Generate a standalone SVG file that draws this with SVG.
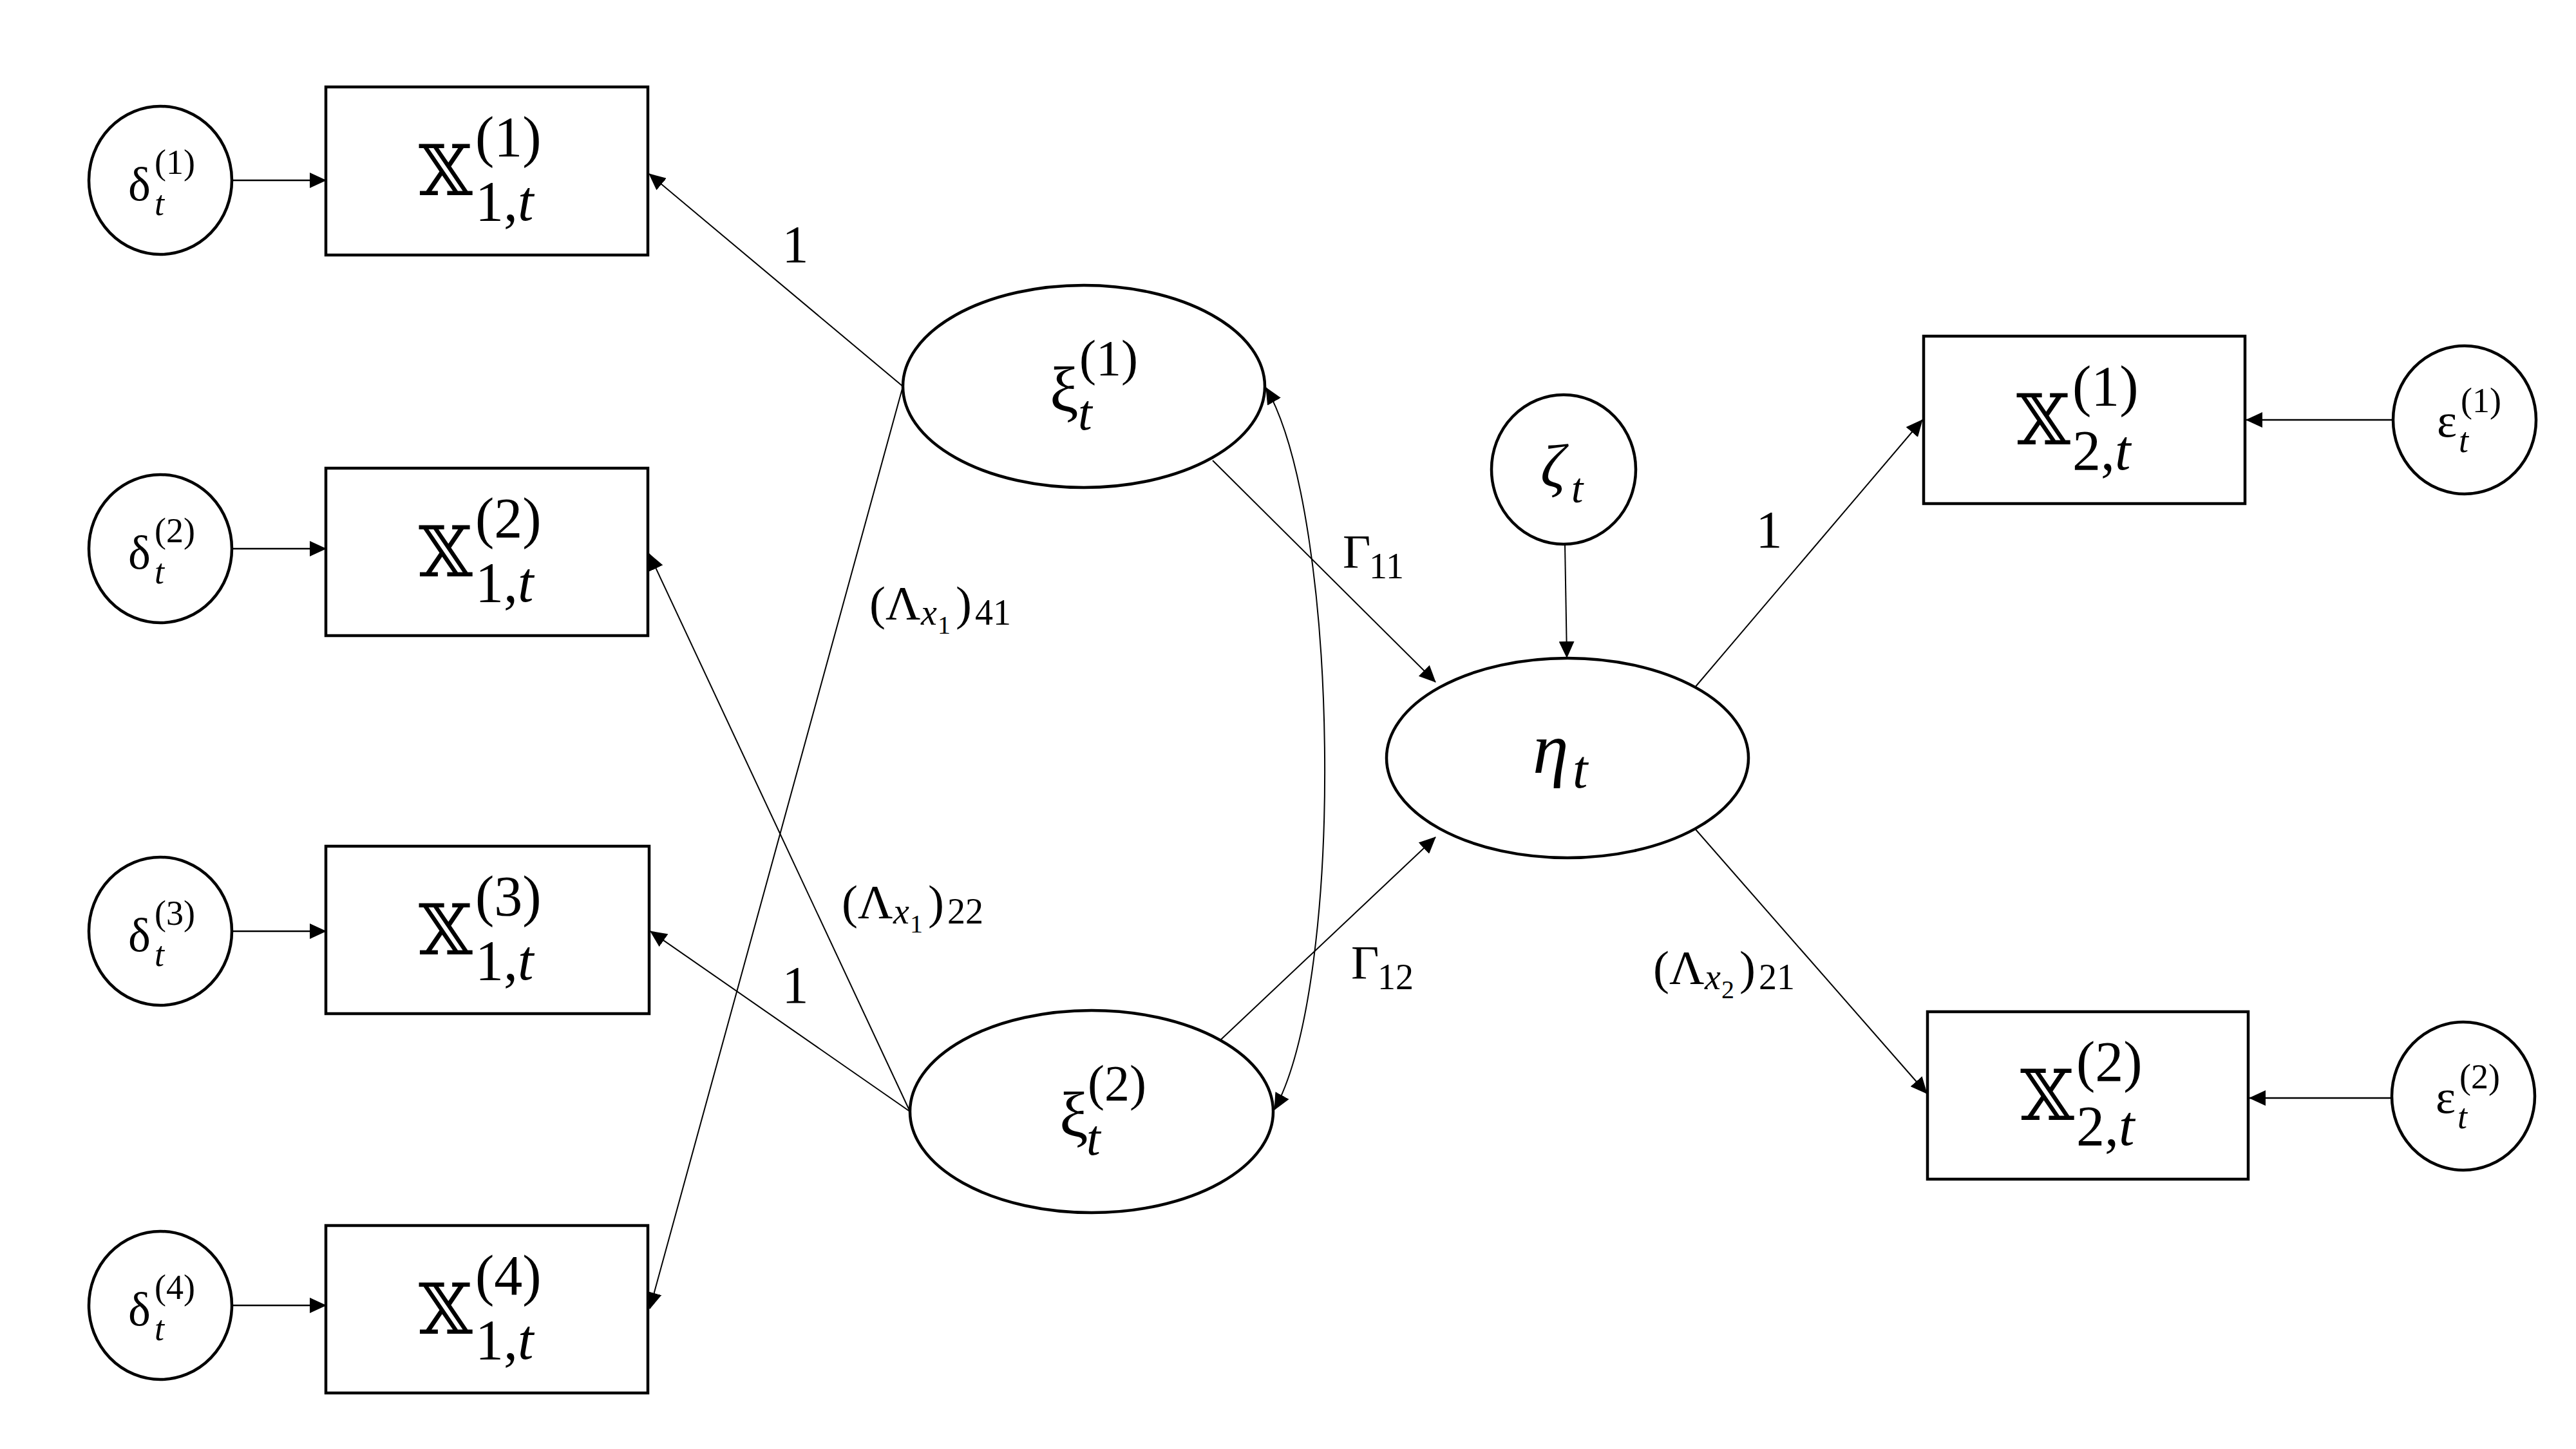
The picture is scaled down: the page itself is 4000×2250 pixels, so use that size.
<svg xmlns="http://www.w3.org/2000/svg" width="4000" height="2250" viewBox="0 0 4000 2250">
<defs>
<marker id="ah" markerUnits="userSpaceOnUse" markerWidth="26" markerHeight="24" refX="25" refY="12" orient="auto-start-reverse" viewBox="0 0 26 24">
<path d="M0,0 L26,12 L0,24 Z" fill="#000"/>
</marker>
</defs>
<style>
.box{fill:#fff;stroke:#000;stroke-width:4.5}
.nd{fill:#fff;stroke:#000;stroke-width:4.5}
.e{fill:none;stroke:#000;stroke-width:2}
.ea{fill:none;stroke:#000;stroke-width:2.6}
text{font-family:"Liberation Serif","DejaVu Serif",serif;fill:#000}
.ds{font-family:"DejaVu Serif","DejaVu Sans",serif;font-size:108px}
.bs{font-size:88px}
.g{font-size:74px}
.gs{font-size:54px}
.lv{font-size:100px}
.lvs{font-size:78px}
.it{font-style:italic}
.lab{font-size:75px}
.labs{font-size:56px}
.labss{font-size:40px}
.one{font-size:82px}
</style>
<rect width="4000" height="2250" fill="#fff"/>

<g id="connectors">
<line class="ea" x1="360" y1="280" x2="506" y2="280" marker-end="url(#ah)"/>
<line class="ea" x1="360" y1="852" x2="506" y2="852" marker-end="url(#ah)"/>
<line class="ea" x1="360" y1="1446" x2="506" y2="1446" marker-end="url(#ah)"/>
<line class="ea" x1="360" y1="2027" x2="506" y2="2027" marker-end="url(#ah)"/>
<line class="ea" x1="3717" y1="652" x2="3488" y2="652" marker-end="url(#ah)"/>
<line class="ea" x1="3715" y1="1705" x2="3493" y2="1705" marker-end="url(#ah)"/>
<line class="e" x1="1402" y1="600" x2="1008" y2="270" marker-end="url(#ah)"/>
<line class="e" x1="1402" y1="600" x2="1009" y2="2032" marker-end="url(#ah)"/>
<line class="e" x1="1413" y1="1726" x2="1008" y2="860" marker-end="url(#ah)"/>
<line class="e" x1="1413" y1="1726" x2="1010" y2="1446" marker-end="url(#ah)"/>
<line class="e" x1="1883" y1="715" x2="2229" y2="1059" marker-end="url(#ah)"/>
<line class="e" x1="1895" y1="1615" x2="2229" y2="1300" marker-end="url(#ah)"/>
<path class="e" d="M1966,602 C2080,800 2090,1520 1979,1723" marker-start="url(#ah)" marker-end="url(#ah)"/>
<line class="e" x1="2430" y1="845" x2="2433" y2="1021" marker-end="url(#ah)"/>
<line class="e" x1="2633" y1="1066" x2="2985" y2="652" marker-end="url(#ah)"/>
<line class="e" x1="2633" y1="1288" x2="2992" y2="1698" marker-end="url(#ah)"/>
</g>

<g id="edge-labels">
<text class="one" x="1235" y="407" text-anchor="middle">1</text>
<text class="one" x="1235" y="1557" text-anchor="middle">1</text>
<text class="one" x="2747" y="850" text-anchor="middle">1</text>
<text class="lab" x="1350" y="962">(Λ</text><text class="labs it" x="1430" y="970">x</text><text class="labss" x="1456" y="984">1</text><text class="lab" x="1484" y="962">)</text><text class="labs" x="1514" y="970">41</text>
<text class="lab" x="1307" y="1426">(Λ</text><text class="labs it" x="1387" y="1434">x</text><text class="labss" x="1413" y="1448">1</text><text class="lab" x="1441" y="1426">)</text><text class="labs" x="1471" y="1434">22</text>
<text class="lab" x="2567" y="1528">(Λ</text><text class="labs it" x="2647" y="1536">x</text><text class="labss" x="2673" y="1550">2</text><text class="lab" x="2701" y="1528">)</text><text class="labs" x="2731" y="1536">21</text>
<text class="lab" x="2085" y="882">Γ</text><text class="labs" x="2126" y="898">11</text>
<text class="lab" x="2098" y="1520">Γ</text><text class="labs" x="2139" y="1536">12</text>
</g>

<g id="X1_1"><rect class="box" x="506" y="135" width="500" height="261"/>
<text class="ds" x="650" y="303">𝕏</text><text class="bs" x="738" y="242">(1)</text><text class="bs" x="738" y="342">1,<tspan class="it">t</tspan></text></g>
<g id="X1_2"><rect class="box" x="506" y="727" width="500" height="260"/>
<text class="ds" x="650" y="895">𝕏</text><text class="bs" x="738" y="834">(2)</text><text class="bs" x="738" y="934">1,<tspan class="it">t</tspan></text></g>
<g id="X1_3"><rect class="box" x="506" y="1314" width="502" height="260"/>
<text class="ds" x="650" y="1482">𝕏</text><text class="bs" x="738" y="1421">(3)</text><text class="bs" x="738" y="1521">1,<tspan class="it">t</tspan></text></g>
<g id="X1_4"><rect class="box" x="506" y="1903" width="500" height="260"/>
<text class="ds" x="650" y="2071">𝕏</text><text class="bs" x="738" y="2010">(4)</text><text class="bs" x="738" y="2110">1,<tspan class="it">t</tspan></text></g>

<g id="X2_1"><rect class="box" x="2987" y="522" width="499" height="260"/>
<text class="ds" x="3131" y="690">𝕏</text><text class="bs" x="3218" y="629">(1)</text><text class="bs" x="3218" y="729">2,<tspan class="it">t</tspan></text></g>
<g id="X2_2"><rect class="box" x="2993" y="1571" width="498" height="260"/>
<text class="ds" x="3137" y="1739">𝕏</text><text class="bs" x="3224" y="1678">(2)</text><text class="bs" x="3224" y="1778">2,<tspan class="it">t</tspan></text></g>

<g id="delta1"><ellipse class="nd" cx="249" cy="280" rx="111" ry="115"/>
<text class="g" x="199" y="311">δ</text><text class="gs" x="240" y="270">(1)</text><text class="gs it" x="240" y="334">t</text></g>
<g id="delta2"><ellipse class="nd" cx="249" cy="852" rx="111" ry="115"/>
<text class="g" x="199" y="883">δ</text><text class="gs" x="240" y="842">(2)</text><text class="gs it" x="240" y="906">t</text></g>
<g id="delta3"><ellipse class="nd" cx="249" cy="1446" rx="111" ry="115"/>
<text class="g" x="199" y="1477">δ</text><text class="gs" x="240" y="1436">(3)</text><text class="gs it" x="240" y="1500">t</text></g>
<g id="delta4"><ellipse class="nd" cx="249" cy="2027" rx="111" ry="115"/>
<text class="g" x="199" y="2058">δ</text><text class="gs" x="240" y="2017">(4)</text><text class="gs it" x="240" y="2081">t</text></g>

<g id="eps1"><ellipse class="nd" cx="3827" cy="652" rx="111" ry="115"/>
<text class="g" x="3784" y="678">ε</text><text class="gs" x="3821" y="640">(1)</text><text class="gs it" x="3818" y="702">t</text></g>
<g id="eps2"><ellipse class="nd" cx="3825" cy="1702" rx="111" ry="115"/>
<text class="g" x="3782" y="1728">ε</text><text class="gs" x="3819" y="1690">(2)</text><text class="gs it" x="3816" y="1752">t</text></g>

<g id="xi1"><ellipse class="nd" cx="1683" cy="600" rx="281" ry="157"/>
<text class="lv" x="1630" y="638">ξ</text><text class="lvs" x="1676" y="582">(1)</text><text class="lvs it" x="1674" y="667">t</text></g>
<g id="xi2"><ellipse class="nd" cx="1695" cy="1726" rx="282" ry="157"/>
<text class="lv" x="1645" y="1764">ξ</text><text class="lvs" x="1689" y="1708">(2)</text><text class="lvs it" x="1687" y="1793">t</text></g>

<g id="zeta"><ellipse class="nd" cx="2428" cy="729" rx="112" ry="116"/>
<text class="it" font-size="95" x="2392" y="756">ζ</text><text class="it" font-size="66" x="2440" y="780">t</text></g>

<g id="eta"><ellipse class="nd" cx="2434" cy="1177" rx="281" ry="155"/>
<text class="it" font-size="112" x="2380" y="1200">η</text><text class="it" font-size="84" x="2442" y="1223">t</text></g>
</svg>
